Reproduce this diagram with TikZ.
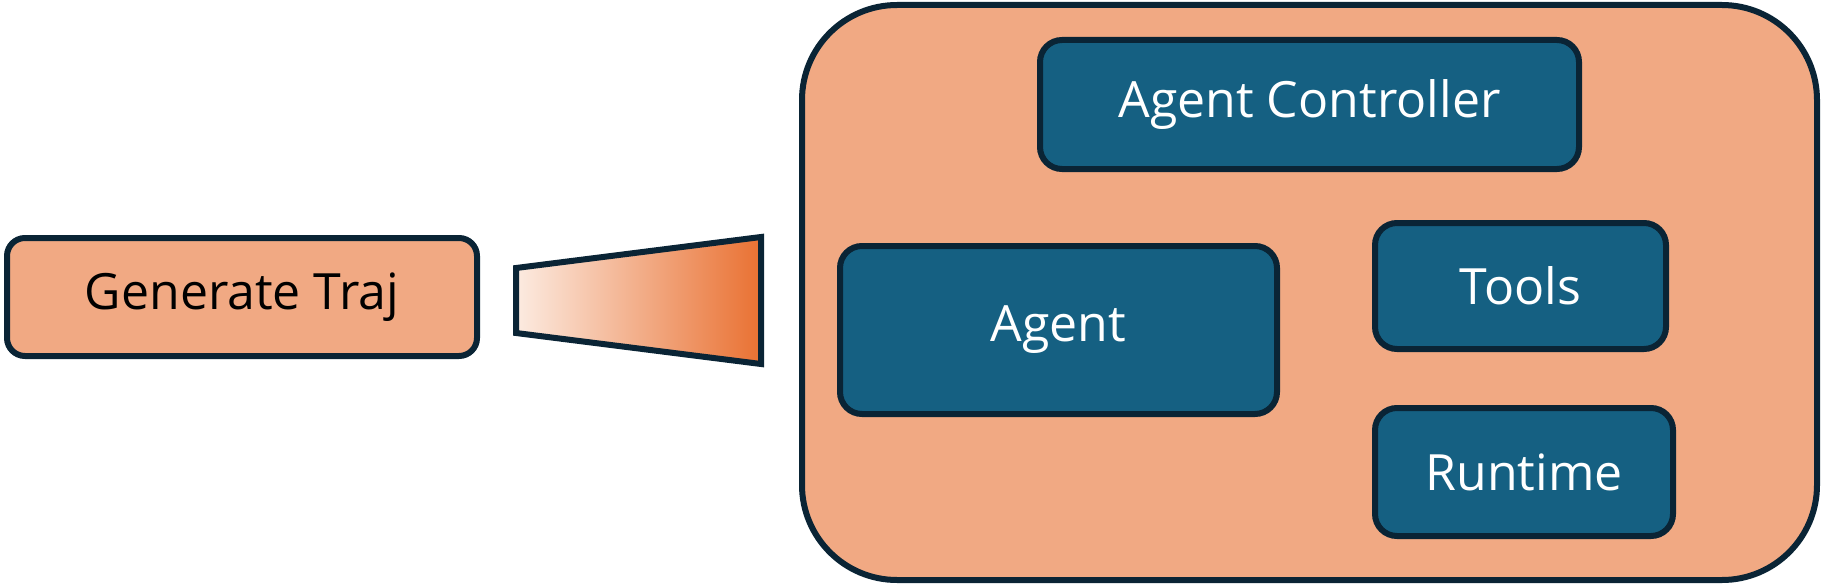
\documentclass[tikz,border=0pt]{standalone}
\usepackage{fontspec}
\setmainfont{Open Sans}
\usepackage{xcolor}
\definecolor{trajOrange}{HTML}{F1A983}
\definecolor{trajDeep}{HTML}{E97132}
\definecolor{trajPale}{HTML}{FCEBE1}
\definecolor{agentTeal}{HTML}{156082}
\definecolor{edgeNavy}{HTML}{0A2435}
\usepackage{tikz}
\usetikzlibrary{positioning}

\begin{document}
\begin{tikzpicture}[
    x=1pt, y=-1pt,
    outline/.style={
        draw=edgeNavy,
        line width=6pt,
        rectangle,
        align=center,
        inner sep=0pt,
        font=\fontsize{50}{60}\selectfont
    },
    stage/.style={
        outline,
        fill=trajOrange,
        rounded corners=18pt,
        text=black
    },
    part/.style={
        outline,
        fill=agentTeal,
        rounded corners=22pt,
        text=white
    },
    frame/.style={
        draw=edgeNavy,
        line width=6pt,
        fill=trajOrange,
        rounded corners=95pt,
        rectangle,
        inner sep=0pt
    }
]
\useasboundingbox (0,0) rectangle (1824,586);

% Left stage
\node[stage, minimum width=470pt, minimum height=118pt] (gen) at (242,297) {Generate Traj};

% Zoom wedge
\coordinate (wedgeTL) at (516,268);
\coordinate (wedgeBL) at (516,333);
\coordinate (wedgeTR) at (761,237);
\coordinate (wedgeBR) at (761,364);
\draw[draw=edgeNavy, line width=6pt, left color=trajPale, right color=trajDeep]
    (wedgeTL) -- (wedgeTR) -- (wedgeBR) -- (wedgeBL) -- cycle;

% Environment
\node[frame, minimum width=1015pt, minimum height=575pt] (env) at (1309.5,292.5) {};

\node[part, minimum width=539pt, minimum height=129pt] (ctrl) at (1309.5,104.5) {Agent Controller};
\node[part, minimum width=437pt, minimum height=168pt] (agent) at (1058.5,330) {Agent};
\node[part, minimum width=291pt, minimum height=126pt] (tools) at (1520.5,286) {Tools};
\node[part, minimum width=298pt, minimum height=128pt] (runtime) at (1524,472) {Runtime};

\end{tikzpicture}
\end{document}
